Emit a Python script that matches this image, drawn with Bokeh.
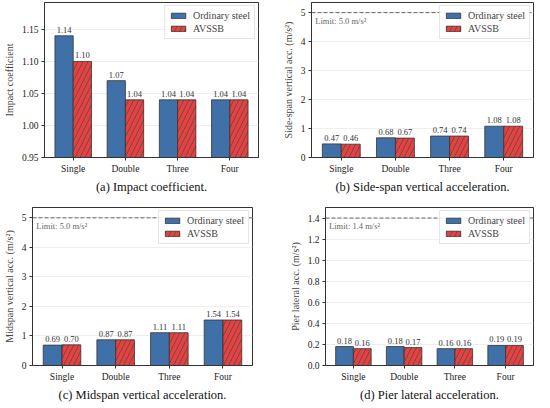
from bokeh.plotting import figure
from bokeh.layouts import column, row
from bokeh.models import (ColumnDataSource, FactorRange, FixedTicker, LabelSet, Span,
                          Label, Range1d, NumeralTickFormatter, Legend, LegendItem)
from bokeh.transform import dodge
from bokeh.embed import file_html
from bokeh.resources import INLINE

categories = ["Single", "Double", "Three", "Four"]
series_names = ["Ordinary steel", "AVSSB"]

impact_ord = [1.14, 1.07, 1.04, 1.04]
impact_avssb = [1.10, 1.04, 1.04, 1.04]
side_ord = [0.47, 0.68, 0.74, 1.08]
side_avssb = [0.46, 0.67, 0.74, 1.08]
mid_ord = [0.69, 0.87, 1.11, 1.54]
mid_avssb = [0.70, 0.87, 1.11, 1.54]
pier_ord = [0.18, 0.18, 0.16, 0.19]
pier_avssb = [0.16, 0.17, 0.16, 0.19]

impact_ticks = [0.95, 1.00, 1.05, 1.10, 1.15]
side_ticks = [0, 1, 2, 3, 4, 5]
mid_ticks = [0, 1, 2, 3, 4, 5]
pier_ticks = [0.0, 0.2, 0.4, 0.6, 0.8, 1.0, 1.2, 1.4]

side_limit = 5.0
mid_limit = 5.0
pier_limit = 1.4

FONT = "Liberation Serif"
BLUE = "#4070a8"
RED = "#ee3d3d"
W = 0.35


def make_panel(ord_vals, av_vals, ylabel, caption, y0, y1, ticks, fmt,
               width, height, bl, br, bt, bb, limit=None):
    src = ColumnDataSource(dict(
        cat=categories, ord=ord_vals, av=av_vals,
        ord_txt=[f"{v:.2f}" for v in ord_vals],
        av_txt=[f"{v:.2f}" for v in av_vals],
    ))
    p = figure(x_range=FactorRange(*categories, range_padding=0.05,
                                   range_padding_units="absolute"),
               y_range=Range1d(y0, y1), width=width, height=height,
               output_backend="svg", toolbar_location=None,
               min_border_left=bl, min_border_right=br,
               min_border_top=bt, min_border_bottom=bb,
               title=caption, title_location="below")
    p.title.align = "center"
    p.title.text_font = FONT
    p.title.text_font_size = "12.5px"
    p.title.text_font_style = "normal"
    p.title.text_color = "#111111"
    p.title.standoff = 3

    r1 = p.vbar(x=dodge("cat", -W / 2, range=p.x_range), top="ord", bottom=y0,
                width=W, source=src, fill_color=BLUE, line_color="#333333",
                line_width=0.8)
    r2 = p.vbar(x=dodge("cat", W / 2, range=p.x_range), top="av", bottom=y0,
                width=W, source=src, fill_color=RED, line_color="#333333",
                line_width=0.8, hatch_pattern="/", hatch_color="#555555",
                hatch_scale=10, hatch_weight=1.0)

    for col, txt, off in (("ord", "ord_txt", -W / 2), ("av", "av_txt", W / 2)):
        p.add_layout(LabelSet(x=dodge("cat", off, range=p.x_range), y=col,
                              text=txt, source=src, text_align="center",
                              text_baseline="bottom", y_offset=3,
                              text_font=FONT, text_font_size="8.5px",
                              text_color="#333333"))

    if limit is not None:
        p.add_layout(Span(location=limit, dimension="width", line_dash="4 2",
                          line_color="#666666", line_width=1))
        p.add_layout(Label(x=0.02, y=limit, y_offset=-3,
                           text=f"Limit: {limit:.1f} m/s²", text_baseline="top",
                           text_font=FONT, text_font_size="8.5px",
                           text_color="#666666"))

    legend = Legend(items=[LegendItem(label=series_names[0], renderers=[r1]),
                           LegendItem(label=series_names[1], renderers=[r2])],
                    location="top_right")
    legend.label_text_font = FONT
    legend.label_text_font_size = "10px"
    legend.glyph_width = 18
    legend.glyph_height = 7
    legend.label_height = 9
    legend.spacing = 2
    legend.padding = 4
    legend.margin = 3
    legend.label_standoff = 6
    legend.border_line_color = "#cccccc"
    legend.background_fill_alpha = 0.85
    p.add_layout(legend)

    p.yaxis.ticker = FixedTicker(ticks=ticks)
    p.yaxis.formatter = NumeralTickFormatter(format=fmt)
    p.yaxis.axis_label = ylabel
    p.yaxis.axis_label_text_font = FONT
    p.yaxis.axis_label_text_font_size = "10px"
    p.yaxis.axis_label_text_font_style = "normal"
    p.yaxis.axis_label_standoff = 4
    for ax in (p.xaxis, p.yaxis):
        ax.major_label_text_font = FONT
        ax.major_label_text_font_size = "9.5px"
        ax.major_label_text_color = "#222222"
        ax.major_tick_in = 0
        ax.major_tick_out = 3
        ax.minor_tick_line_color = None
        ax.axis_line_color = "#333333"
        ax.major_tick_line_color = "#333333"
        ax.major_label_standoff = 3
    p.xgrid.grid_line_color = None
    p.ygrid.grid_line_color = "#eeeeee"
    p.outline_line_color = "#333333"
    p.outline_line_alpha = 1
    return p


pa = make_panel(impact_ord, impact_avssb, "Impact coefficient",
                "(a) Impact coefficient.", 0.95, 1.192, impact_ticks, "0.00",
                264, 195, 31, 6, 2, 30)
pb = make_panel(side_ord, side_avssb, "Side-span vertical acc. (m/s²)",
                "(b) Side-span vertical acceleration.", 0, 5.35, side_ticks, "0",
                270, 195, 47, 1, 2, 30, limit=side_limit)
pc = make_panel(mid_ord, mid_avssb, "Midspan vertical acc. (m/s²)",
                "(c) Midspan vertical acceleration.", 0, 5.35, mid_ticks, "0",
                264, 208, 22, 12, 12, 30, limit=mid_limit)
pd = make_panel(pier_ord, pier_avssb, "Pier lateral acc. (m/s²)",
                "(d) Pier lateral acceleration.", 0, 1.5, pier_ticks, "0.0",
                270, 208, 61, 1, 12, 30, limit=pier_limit)

layout = column(row(pa, pb), row(pc, pd))
open("out.html", "w").write(file_html(layout, INLINE))
